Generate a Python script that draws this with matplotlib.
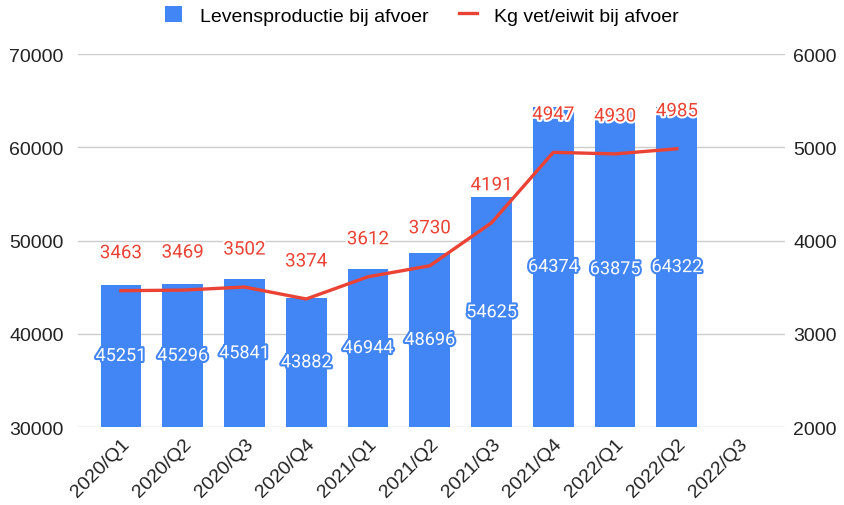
import matplotlib.pyplot as plt
import matplotlib.patheffects as pe
import numpy as np

plt.rcParams['font.family'] = ['Liberation Sans', 'DejaVu Sans']

quarters = ['2020/Q1', '2020/Q2', '2020/Q3', '2020/Q4', '2021/Q1', '2021/Q2',
            '2021/Q3', '2021/Q4', '2022/Q1', '2022/Q2', '2022/Q3']
levensproductie = [45251, 45296, 45841, 43882, 46944, 48696, 54625, 64374, 63875, 64322]
kg_vet_eiwit = [3463, 3469, 3502, 3374, 3612, 3730, 4191, 4947, 4930, 4985]

blue = '#4285f4'
red = '#ea4335'

fig = plt.figure(figsize=(8.44, 5.06), dpi=100)
ax = fig.add_axes([0.092, 0.154, 0.838, 0.737])
ax2 = ax.twinx()

x = np.arange(len(levensproductie))
ax.bar(x, levensproductie, width=0.66, color=blue, zorder=2,
       label='Levensproductie bij afvoer')
ax.set_ylim(30000, 70000)
ax.set_yticks(range(30000, 70001, 10000))
ax.set_xlim(-0.7, 10.75)
ax.set_xticks(range(len(quarters)))
ax.set_xticklabels(quarters, rotation=45, ha='right', rotation_mode='anchor',
                   fontsize=13.5, color='#222222')
ax.grid(axis='y', color='#cccccc', linewidth=1, zorder=0)
ax.set_axisbelow(True)

# bar labels in the middle of each bar
for xi, v in zip(x, levensproductie):
    t = ax.text(xi, (30000 + v) / 2, str(v), ha='center', va='center', color='white',
                fontsize=13, family='Roboto', zorder=5)
    t.set_path_effects([pe.withStroke(linewidth=3, foreground=blue)])

ax2.plot(x, kg_vet_eiwit, color=red, linewidth=2.4, zorder=3, label='Kg vet/eiwit bij afvoer')
ax2.set_ylim(2000, 6000)
ax2.set_yticks(range(2000, 6001, 1000))
for xi, v in zip(x, kg_vet_eiwit):
    t = ax2.annotate(str(v), (xi, v), xytext=(0, 27), textcoords='offset points',
                     ha='center', va='center', color=red, fontsize=13.5, family='Roboto')
    t.set_path_effects([pe.withStroke(linewidth=3, foreground='white')])

for a in (ax, ax2):
    for s in a.spines.values():
        s.set_visible(False)
    a.tick_params(length=0, labelsize=14, colors='#222222')
ax.tick_params(axis='y', pad=10)
ax2.tick_params(axis='y', pad=6)
ax.tick_params(axis='x', pad=6)

h1, l1 = ax.get_legend_handles_labels()
h2, l2 = ax2.get_legend_handles_labels()
fig.legend(h1 + h2, l1 + l2, loc='center', bbox_to_anchor=(0.5, 0.968), ncol=2,
           frameon=False, fontsize=14, handlelength=0.9, handleheight=0.9,
           columnspacing=1.6, handletextpad=0.9)

fig.savefig('out.png', dpi=100)
